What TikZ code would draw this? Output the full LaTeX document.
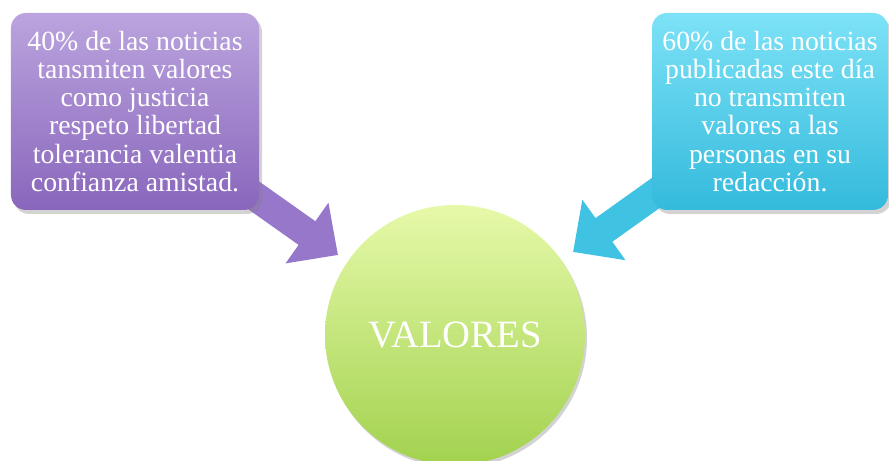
\documentclass[tikz,border=0pt]{standalone}
\usepackage{fontspec}
\setmainfont{Liberation Serif}
\usetikzlibrary{arrows.meta,shadows,backgrounds}
\definecolor{lilactop}{HTML}{BBA4DE}
\definecolor{lilacbot}{HTML}{8966BC}
\definecolor{lilac}{HTML}{9677CA}
\definecolor{skytop}{HTML}{7DE2F7}
\definecolor{skybot}{HTML}{34BADC}
\definecolor{sky}{HTML}{40C3E3}
\definecolor{limetop}{HTML}{E6F9A9}
\definecolor{limebot}{HTML}{A2D24F}

\begin{document}
\begin{tikzpicture}[
    box/.style={rounded corners=0.3cm, minimum height=3.94cm, align=center,
        text=white, font=\fontsize{15.8}{16}\selectfont,
        drop shadow={opacity=0.35, shadow xshift=0.06cm, shadow yshift=-0.08cm}},
    hub/.style={circle, minimum size=5.2cm, inner sep=0pt, text=white,
        top color=limetop, bottom color=limebot, font=\fontsize{22}{26}\selectfont,
        drop shadow={opacity=0.35, shadow xshift=0.04cm, shadow yshift=-0.06cm}},
    fat/.style={line width=0.58cm, -{Triangle[width=1.44cm, length=0.76cm]}}
]
\useasboundingbox (0,0) rectangle (17.78,9.22);

% Two boxes and the circle.
\node[box, minimum width=4.96cm, top color=lilactop, bottom color=lilacbot]
    (left) at (2.70,6.99)
    {40\% de las noticias\\tansmiten valores\\como justicia\\respeto libertad\\tolerancia valentia\\confianza amistad.};
\node[box, minimum width=4.72cm, top color=skytop, bottom color=skybot]
    (right) at (15.40,6.99)
    {60\% de las noticias\\publicadas este día\\no transmiten\\valores a las\\personas en su\\redacción.};
\node[hub] (valores) at (9.10,2.52) {VALORES};

\coordinate (ltip) at (6.76,4.12);
\coordinate (rtip) at (11.46,4.18);

% Arrows go behind the boxes.
\begin{scope}[on background layer]
\draw[fat, lilac] (left.center) -- (ltip);
\draw[fat, sky] (right.center) -- (rtip);
\end{scope}
\end{tikzpicture}
\end{document}
